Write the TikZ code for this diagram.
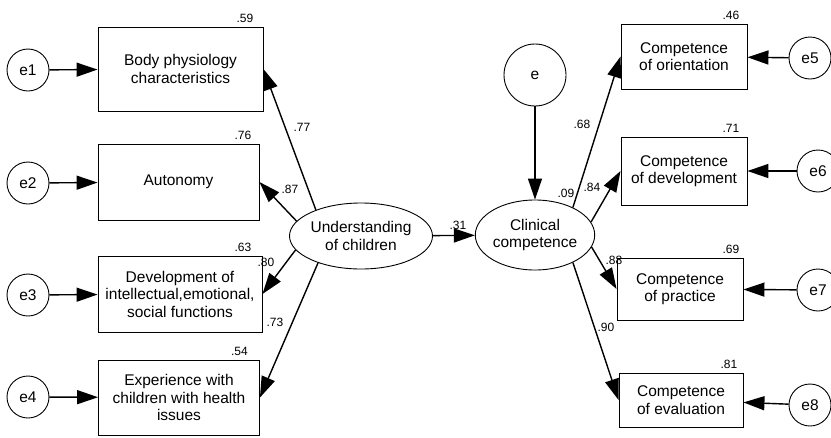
\documentclass[tikz,border=0pt]{standalone}
\usepackage{fontspec}
\setmainfont{Liberation Sans}
\usetikzlibrary{arrows.meta,shapes.geometric}

\tikzset{
  obsbox/.style={draw, line width=0.9pt, align=center, inner sep=2pt,
    font=\fontsize{15.5}{17.5}\selectfont},
  errnode/.style={draw, circle, line width=0.9pt, minimum size=42pt, inner sep=0pt,
    font=\fontsize{15.5}{17.5}\selectfont},
  latnode/.style={draw, ellipse, line width=0.9pt, inner sep=0pt, align=center,
    font=\fontsize{15.5}{17.5}\selectfont},
  num/.style={inner sep=1pt, font=\fontsize{12}{14}\selectfont},
  arr/.style={line width=1.4pt, -{Triangle[length=21pt,width=14pt]}}
}

\begin{document}
\begin{tikzpicture}[x=1pt, y=-1pt]
  \useasboundingbox (0,0) rectangle (831,437);

  % left side
  \node [obsbox, minimum width=165pt, minimum height=84pt] (b1) at (180.5, 69) {Body physiology\\characteristics};
  \node [obsbox, minimum width=161pt, minimum height=76pt] (b2) at (178.5, 182) {Autonomy};
  \node [obsbox, minimum width=164pt, minimum height=76pt] (b3) at (180, 294) {Development of\\intellectual,emotional,\\social functions};
  \node [obsbox, minimum width=161pt, minimum height=75pt] (b4) at (179, 397.5) {Experience with\\children with health\\issues};

  \node [errnode] (e1) at (28, 70) {e1};
  \node [errnode] (e2) at (28, 183) {e2};
  \node [errnode] (e3) at (28, 295) {e3};
  \node [errnode] (e4) at (28, 397) {e4};

  % latent variables
  \node [latnode, minimum width=143pt, minimum height=66pt] (und) at (361, 236) {Understanding\\of children};
  \node [latnode, minimum width=118pt, minimum height=70pt] (cli) at (535, 235) {Clinical\\competence};
  \node [errnode, minimum size=62pt] (e) at (535, 75) {e};

  % right side
  \node [obsbox, minimum width=126pt, minimum height=65pt] (b5) at (684, 56.5) {Competence\\of orientation};
  \node [obsbox, minimum width=126pt, minimum height=68pt] (b6) at (684, 171) {Competence\\of development};
  \node [obsbox, minimum width=126pt, minimum height=62pt] (b7) at (680, 289) {Competence\\of practice};
  \node [obsbox, minimum width=124pt, minimum height=54pt] (b8) at (681, 400) {Competence\\of evaluation};

  \node [errnode] (e5) at (810, 58) {e5};
  \node [errnode] (e6) at (818, 171) {e6};
  \node [errnode] (e7) at (818, 290) {e7};
  \node [errnode] (e8) at (810, 405) {e8};

  % arrows
  \draw [arr] (e1) -- (b1);
  \draw [arr] (e2) -- (b2);
  \draw [arr] (e3) -- (b3);
  \draw [arr] (e4) -- (b4);
  \draw [arr] (und.150) -- (b1.east);
  \draw [arr] (und.167) -- (b2.east);
  \draw [arr] (und.192) -- (b3.east);
  \draw [arr] (und.212) -- (b4.east);
  \draw [arr] (und) -- (cli);
  \draw [arr] (e) -- (cli);
  \draw [arr] (cli.36) -- (b5.west);
  \draw [arr] (cli.13) -- (b6.west);
  \draw [arr] (cli.-12) -- (b7.west);
  \draw [arr] (cli.-36) -- (b8.west);
  \draw [arr] (e5) -- (b5);
  \draw [arr] (e6) -- (b6);
  \draw [arr] (e7) -- (b7);
  \draw [arr] (e8) -- (b8);

  % coefficients
  \node [num, anchor=south east] (r1) at ([xshift=-9pt, yshift=3pt]b1.north east) {.59};
  \node [num, anchor=south east] (r2) at ([xshift=-7pt, yshift=3pt]b2.north east) {.76};
  \node [num, anchor=south east] (r3) at ([xshift=-10pt, yshift=3pt]b3.north east) {.63};
  \node [num, anchor=south east] (r4) at ([xshift=-11pt, yshift=3pt]b4.north east) {.54};
  \node [num, anchor=south east] (r5) at ([xshift=-7pt, yshift=3pt]b5.north east) {.46};
  \node [num, anchor=south east] (r6) at ([xshift=-7pt, yshift=3pt]b6.north east) {.71};
  \node [num, anchor=south east] (r7) at ([xshift=-3pt, yshift=3pt]b7.north east) {.69};
  \node [num, anchor=south east] (r8) at ([xshift=-5pt, yshift=3pt]b8.north east) {.81};

  \node [num] (l1) at (302, 127) {.77};
  \node [num] (l2) at (290, 189) {.87};
  \node [num] (l3) at (266, 262) {.80};
  \node [num] (l4) at (275, 322) {.73};
  \node [num] (l5) at (458, 225) {.31};
  \node [num] (l6) at (566, 193) {.09};
  \node [num] (l7) at (582, 124) {.68};
  \node [num] (l8) at (592, 187) {.84};
  \node [num] (l9) at (614, 260) {.88};
  \node [num] (l10) at (606, 327) {.90};
\end{tikzpicture}
\end{document}
